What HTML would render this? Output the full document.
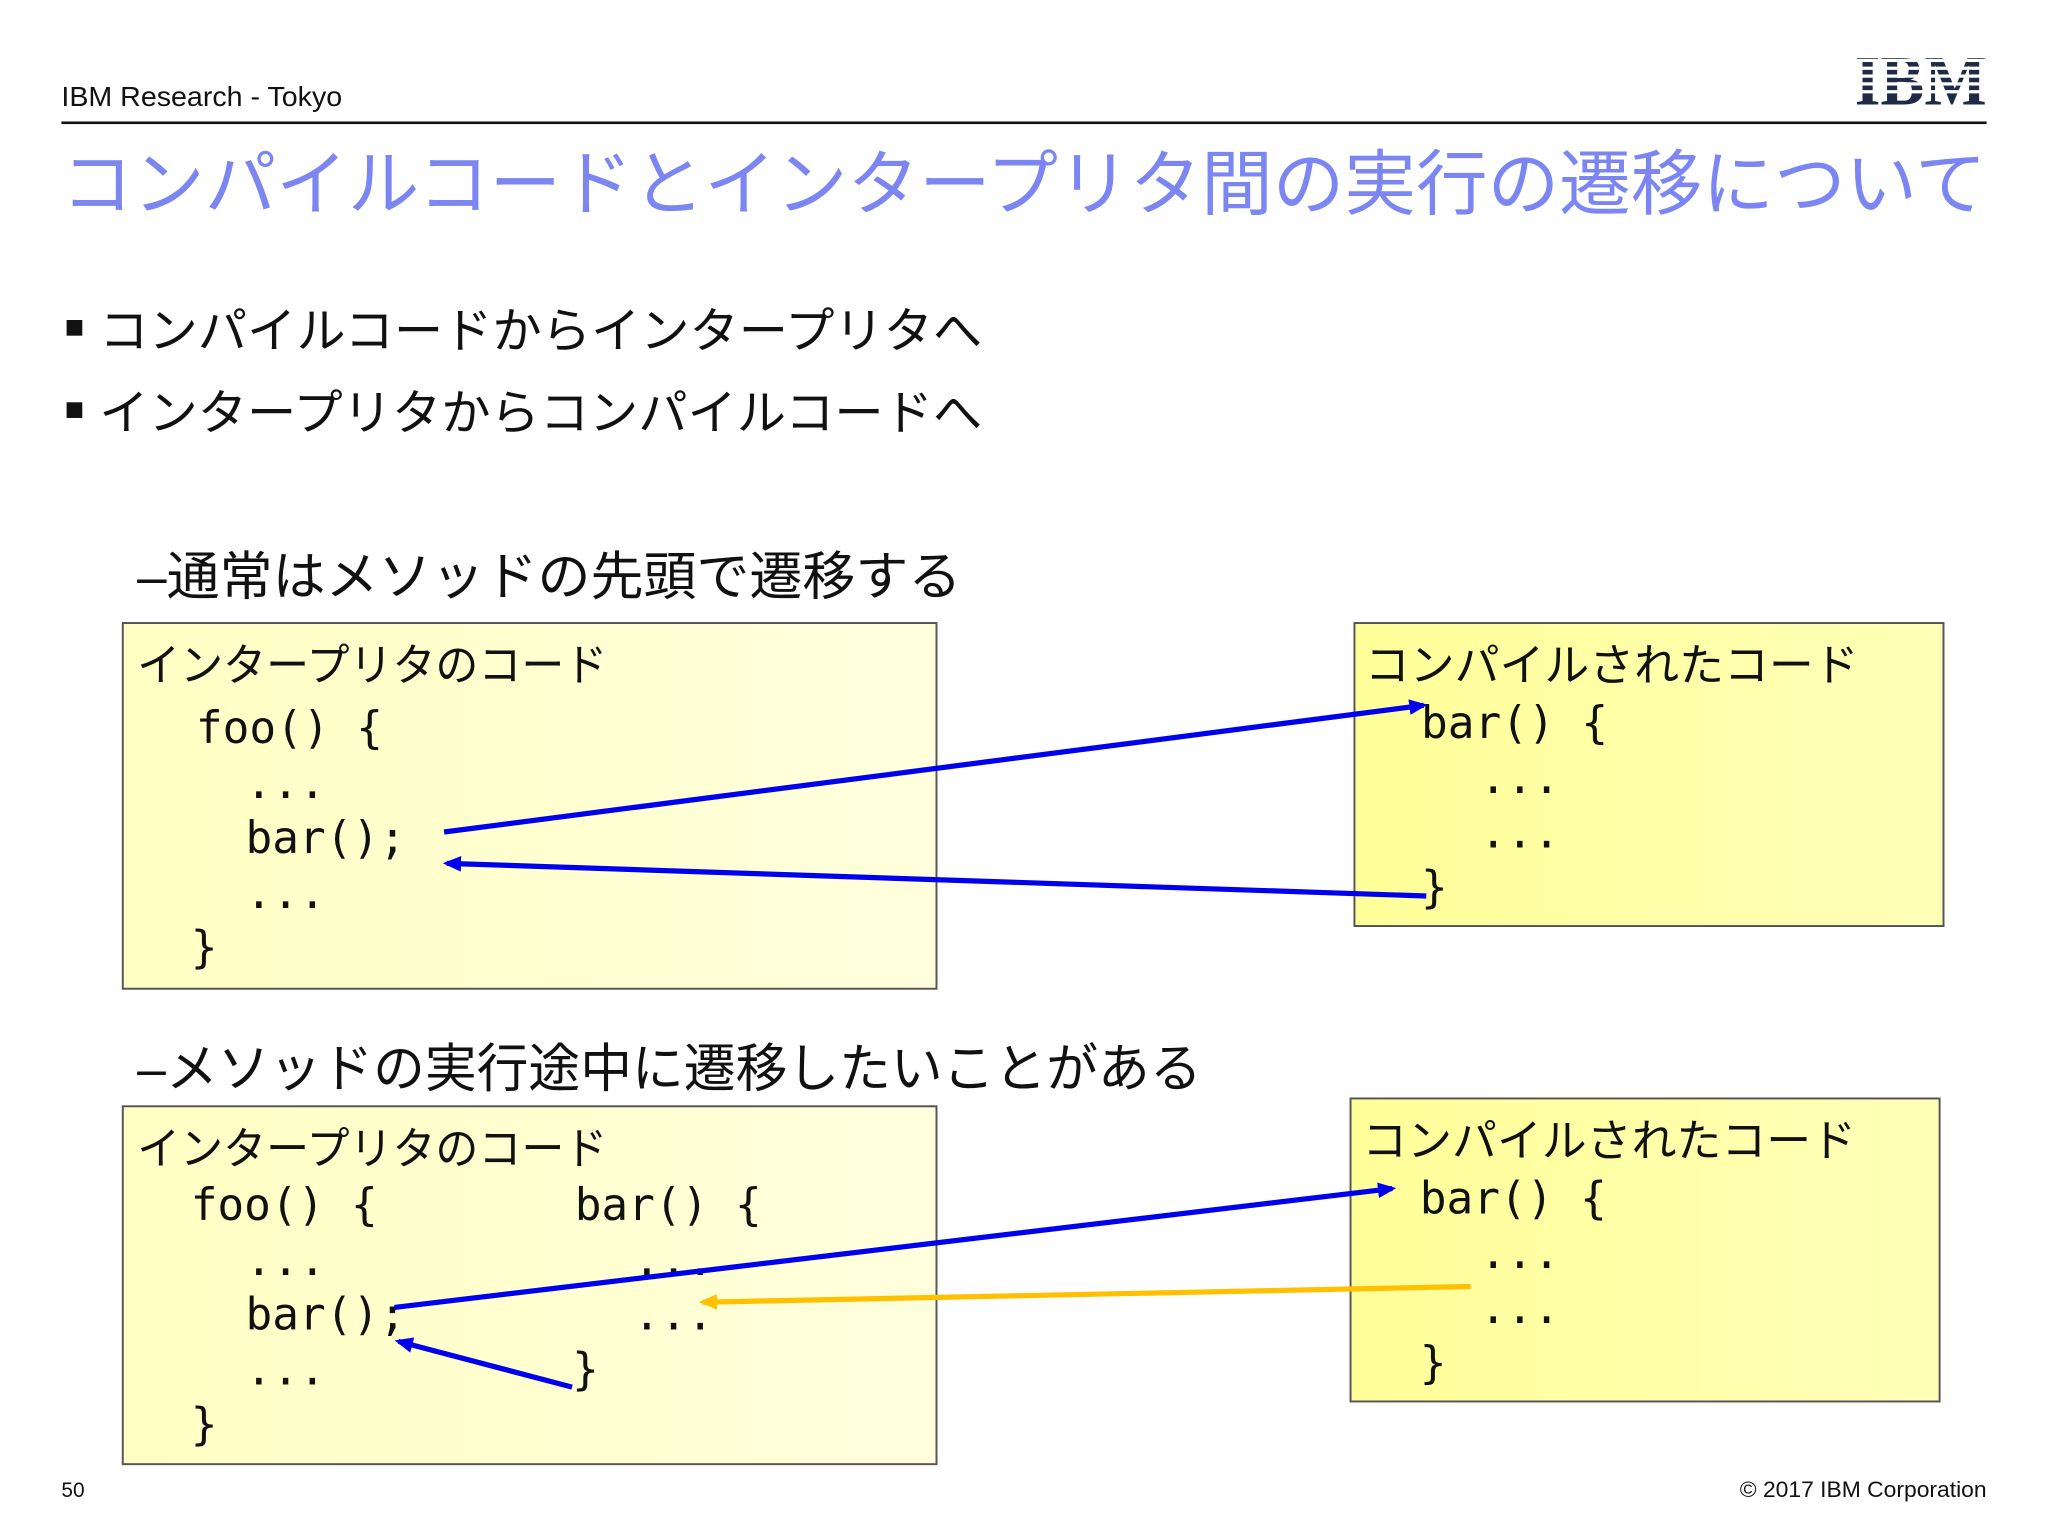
<!DOCTYPE html>
<html><head><meta charset="utf-8"><style>
html,body{margin:0;padding:0;background:#fff;width:2048px;height:1536px;overflow:hidden}
#w{width:1568px;height:1176px;transform:scale(1.306122);transform-origin:0 0}
svg text{font-family:"Liberation Sans","Noto Sans CJK JP",sans-serif}
.c{font-family:"DejaVu Sans Mono","Liberation Mono",monospace !important;font-size:34px;fill:#111}
.j{font-size:34px;fill:#111}
</style></head><body><div id="w">
<svg width="1568" height="1176" viewBox="0 0 1568 1176" xmlns="http://www.w3.org/2000/svg">
<defs>
<linearGradient id="g1" x1="0" y1="0" x2="1" y2="0"><stop offset="0" stop-color="#ffffc4"/><stop offset="1" stop-color="#ffffdd"/></linearGradient>
<linearGradient id="g2" x1="0" y1="0" x2="1" y2="0"><stop offset="0" stop-color="#ffff99"/><stop offset="1" stop-color="#ffffb8"/></linearGradient>
<marker id="ab" markerWidth="14" markerHeight="12" refX="11" refY="6" orient="auto" markerUnits="userSpaceOnUse"><path d="M0,0 L14,6 L0,12 z" fill="#0000ee"/></marker>
<marker id="ao" markerWidth="14" markerHeight="12" refX="11" refY="6" orient="auto" markerUnits="userSpaceOnUse"><path d="M0,0 L14,6 L0,12 z" fill="#ffc000"/></marker>
</defs>
<text x="47" y="81" font-size="21" fill="#111" textLength="215" lengthAdjust="spacingAndGlyphs">IBM Research - Tokyo</text>
<g>
<text x="1420" y="80" font-size="54" font-weight="bold" fill="#1f2a44" style="font-family:'Liberation Serif',serif" textLength="101" lengthAdjust="spacingAndGlyphs">IBM</text>
<rect x="1418" y="45" width="106" height="2.5" fill="#fff"/><rect x="1418" y="51" width="106" height="2.5" fill="#fff"/><rect x="1418" y="57" width="106" height="2.5" fill="#fff"/><rect x="1418" y="63" width="106" height="2.5" fill="#fff"/><rect x="1418" y="69" width="106" height="2.5" fill="#fff"/>
</g>
<rect x="47" y="93" width="1474" height="2" fill="#111"/>
<text x="47" y="160" font-size="55" fill="#7b86f2" textLength="1474" lengthAdjust="spacingAndGlyphs">コンパイルコードとインタープリタ間の実行の遷移について</text>
<rect x="51" y="245" width="12" height="12" fill="#111"/>
<text x="76" y="266" font-size="37" fill="#111" textLength="676" lengthAdjust="spacingAndGlyphs">コンパイルコードからインタープリタへ</text>
<rect x="51" y="308" width="12" height="12" fill="#111"/>
<text x="76" y="329" font-size="37" fill="#111" textLength="676" lengthAdjust="spacingAndGlyphs">インタープリタからコンパイルコードへ</text>
<text x="105" y="455" font-size="40" fill="#111" textLength="631" lengthAdjust="spacingAndGlyphs">–通常はメソッドの先頭で遷移する</text>
<text x="105" y="832" font-size="40" fill="#111" textLength="815" lengthAdjust="spacingAndGlyphs">–メソッドの実行途中に遷移したいことがある</text>

<rect x="94" y="477" width="623" height="280" fill="url(#g1)" stroke="#555" stroke-width="1.5"/>
<text class="j" x="105" y="521" textLength="360" lengthAdjust="spacingAndGlyphs">インタープリタのコード</text>
<text class="c" x="150" y="569">foo() {</text>
<text class="c" x="188" y="611">...</text>
<text class="c" x="188" y="653">bar();</text>
<text class="c" x="188" y="695">...</text>
<text class="c" x="146" y="737">}</text>

<rect x="1037" y="477" width="451" height="232" fill="url(#g2)" stroke="#555" stroke-width="1.5"/>
<text class="j" x="1045" y="521" textLength="378" lengthAdjust="spacingAndGlyphs">コンパイルされたコード</text>
<text class="c" x="1088" y="565">bar() {</text>
<text class="c" x="1133" y="607">...</text>
<text class="c" x="1133" y="649">...</text>
<text class="c" x="1088" y="691">}</text>

<rect x="94" y="847" width="623" height="274" fill="url(#g1)" stroke="#555" stroke-width="1.5"/>
<text class="j" x="105" y="891" textLength="360" lengthAdjust="spacingAndGlyphs">インタープリタのコード</text>
<text class="c" x="146" y="934">foo() {</text>
<text class="c" x="440" y="934">bar() {</text>
<text class="c" x="188" y="976">...</text>
<text class="c" x="485" y="976">...</text>
<text class="c" x="188" y="1018">bar();</text>
<text class="c" x="485" y="1018">...</text>
<text class="c" x="188" y="1060">...</text>
<text class="c" x="438" y="1060">}</text>
<text class="c" x="146" y="1102">}</text>

<rect x="1034" y="841" width="451" height="232" fill="url(#g2)" stroke="#555" stroke-width="1.5"/>
<text class="j" x="1043" y="885" textLength="378" lengthAdjust="spacingAndGlyphs">コンパイルされたコード</text>
<text class="c" x="1087" y="929">bar() {</text>
<text class="c" x="1133" y="971">...</text>
<text class="c" x="1133" y="1013">...</text>
<text class="c" x="1087" y="1055">}</text>

<g stroke-width="4" fill="none">
<line x1="340" y1="637" x2="1090" y2="540" stroke="#0000ee" marker-end="url(#ab)"/>
<line x1="1092" y1="686" x2="342" y2="661" stroke="#0000ee" marker-end="url(#ab)"/>
<line x1="302" y1="1001" x2="1066" y2="910" stroke="#0000ee" marker-end="url(#ab)"/>
<line x1="438" y1="1062" x2="305" y2="1027" stroke="#0000ee" marker-end="url(#ab)"/>
<line x1="1126" y1="985" x2="538" y2="997" stroke="#ffc000" marker-end="url(#ao)"/>
</g>
<text x="47" y="1146" font-size="16" fill="#111">50</text>
<text x="1521" y="1146" font-size="17" fill="#111" text-anchor="end" textLength="189" lengthAdjust="spacingAndGlyphs">© 2017 IBM Corporation</text>
</svg></div></body></html>
